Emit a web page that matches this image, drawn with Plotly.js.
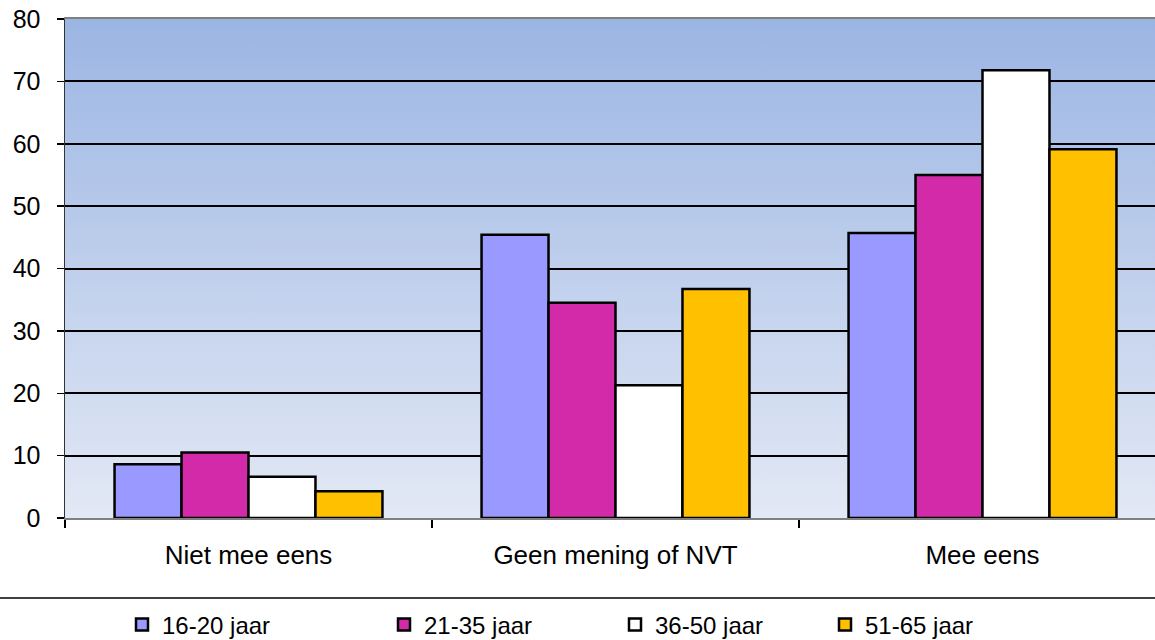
<!DOCTYPE html>
<html>
<head>
<meta charset="utf-8">
<script src="https://cdn.plot.ly/plotly-3.0.1.min.js"></script>
<style>
html,body{margin:0;padding:0;overflow:hidden;background:#fff;}
#chart{width:1170px;height:640px;}
</style>
</head>
<body>
<div id="chart"></div>
<script>
const categories = ["Niet mee eens", "Geen mening of NVT", "Mee eens"];
const seriesNames = ["16-20 jaar", "21-35 jaar", "36-50 jaar", "51-65 jaar"];
const v1620 = [8.6, 45.4, 45.7];
const v2135 = [10.5, 34.5, 55.0];
const v3650 = [6.6, 21.3, 71.8];
const v5165 = [4.3, 36.7, 59.1];
const yTicks = [0, 10, 20, 30, 40, 50, 60, 70, 80];

const colors = ["#9999FF", "#D22AA8", "#FFFFFF", "#FFC000"];
const values = [v1620, v2135, v3650, v5165];
const legendIds = ["legend", "legend2", "legend3", "legend4"];
const legendLeftPx = [122, 384, 615, 825];

const FONT = '"Liberation Sans", Arial, sans-serif';
const W = 1170, H = 640;

const traces = values.map((v, i) => ({
  type: "bar",
  name: seriesNames[i],
  x: categories,
  y: v,
  marker: {color: colors[i], line: {color: "#000", width: 2.5}},
  legend: legendIds[i],
  hoverinfo: "skip"
}));

const svg = '<svg xmlns="http://www.w3.org/2000/svg" width="100" height="100" preserveAspectRatio="none">' +
  '<defs><linearGradient id="g" x1="0" y1="0" x2="0" y2="1">' +
  '<stop offset="0" stop-color="#9BB5E3"/><stop offset="1" stop-color="#E3E9F5"/>' +
  '</linearGradient></defs><rect width="100" height="100" fill="url(#g)"/></svg>';
const bgSrc = "data:image/svg+xml;charset=utf-8," + encodeURIComponent(svg);

const layout = {
  width: W,
  height: H,
  margin: {l: 65, r: 4, t: 19, b: 122, autoexpand: false},
  paper_bgcolor: "#fff",
  plot_bgcolor: "rgba(0,0,0,0)",
  font: {family: FONT, size: 24, color: "#000"},
  barmode: "group",
  bargap: 0.27,
  bargroupgap: 0,
  xaxis: {
    type: "category",
    showline: true, mirror: true, linecolor: "#808080", linewidth: 2,
    ticks: "outside", tickson: "boundaries", ticklen: 8, tickcolor: "#000", tickwidth: 1.5,
    tickfont: {family: FONT, size: 26, color: "#000"},
    ticklabelstandoff: 13,
    showgrid: false, fixedrange: true, automargin: false
  },
  yaxis: {
    range: [0, 80],
    tickvals: yTicks,
    showline: true, linecolor: "#333", linewidth: 1.5,
    ticks: "outside", ticklen: 7, tickcolor: "#000", tickwidth: 1.5,
    tickfont: {family: FONT, size: 25, color: "#000"},
    ticklabelstandoff: 11,
    showgrid: true, gridcolor: "#000", gridwidth: 2,
    zeroline: false, fixedrange: true, automargin: false
  },
  images: [{
    source: bgSrc, xref: "paper", yref: "paper", x: 0, y: 1,
    sizex: 1, sizey: 1, xanchor: "left", yanchor: "top",
    sizing: "stretch", layer: "below"
  }],
  shapes: [{
    type: "line", xref: "paper", yref: "paper",
    x0: -0.06, x1: 1.01, y0: (518 - 598) / 499, y1: (518 - 598) / 499,
    line: {color: "#000", width: 1.5}
  }],
  showlegend: true
};

legendIds.forEach((id, i) => {
  layout[id] = {
    orientation: "h",
    xref: "container", x: legendLeftPx[i] / W, xanchor: "left",
    yref: "container", y: (H - 625) / H, yanchor: "middle",
    bgcolor: "rgba(0,0,0,0)", borderwidth: 0,
    font: {family: FONT, size: 24, color: "#000"}
  };
});

Plotly.newPlot("chart", traces, layout, {staticPlot: true, displayModeBar: false});
</script>
</body>
</html>
